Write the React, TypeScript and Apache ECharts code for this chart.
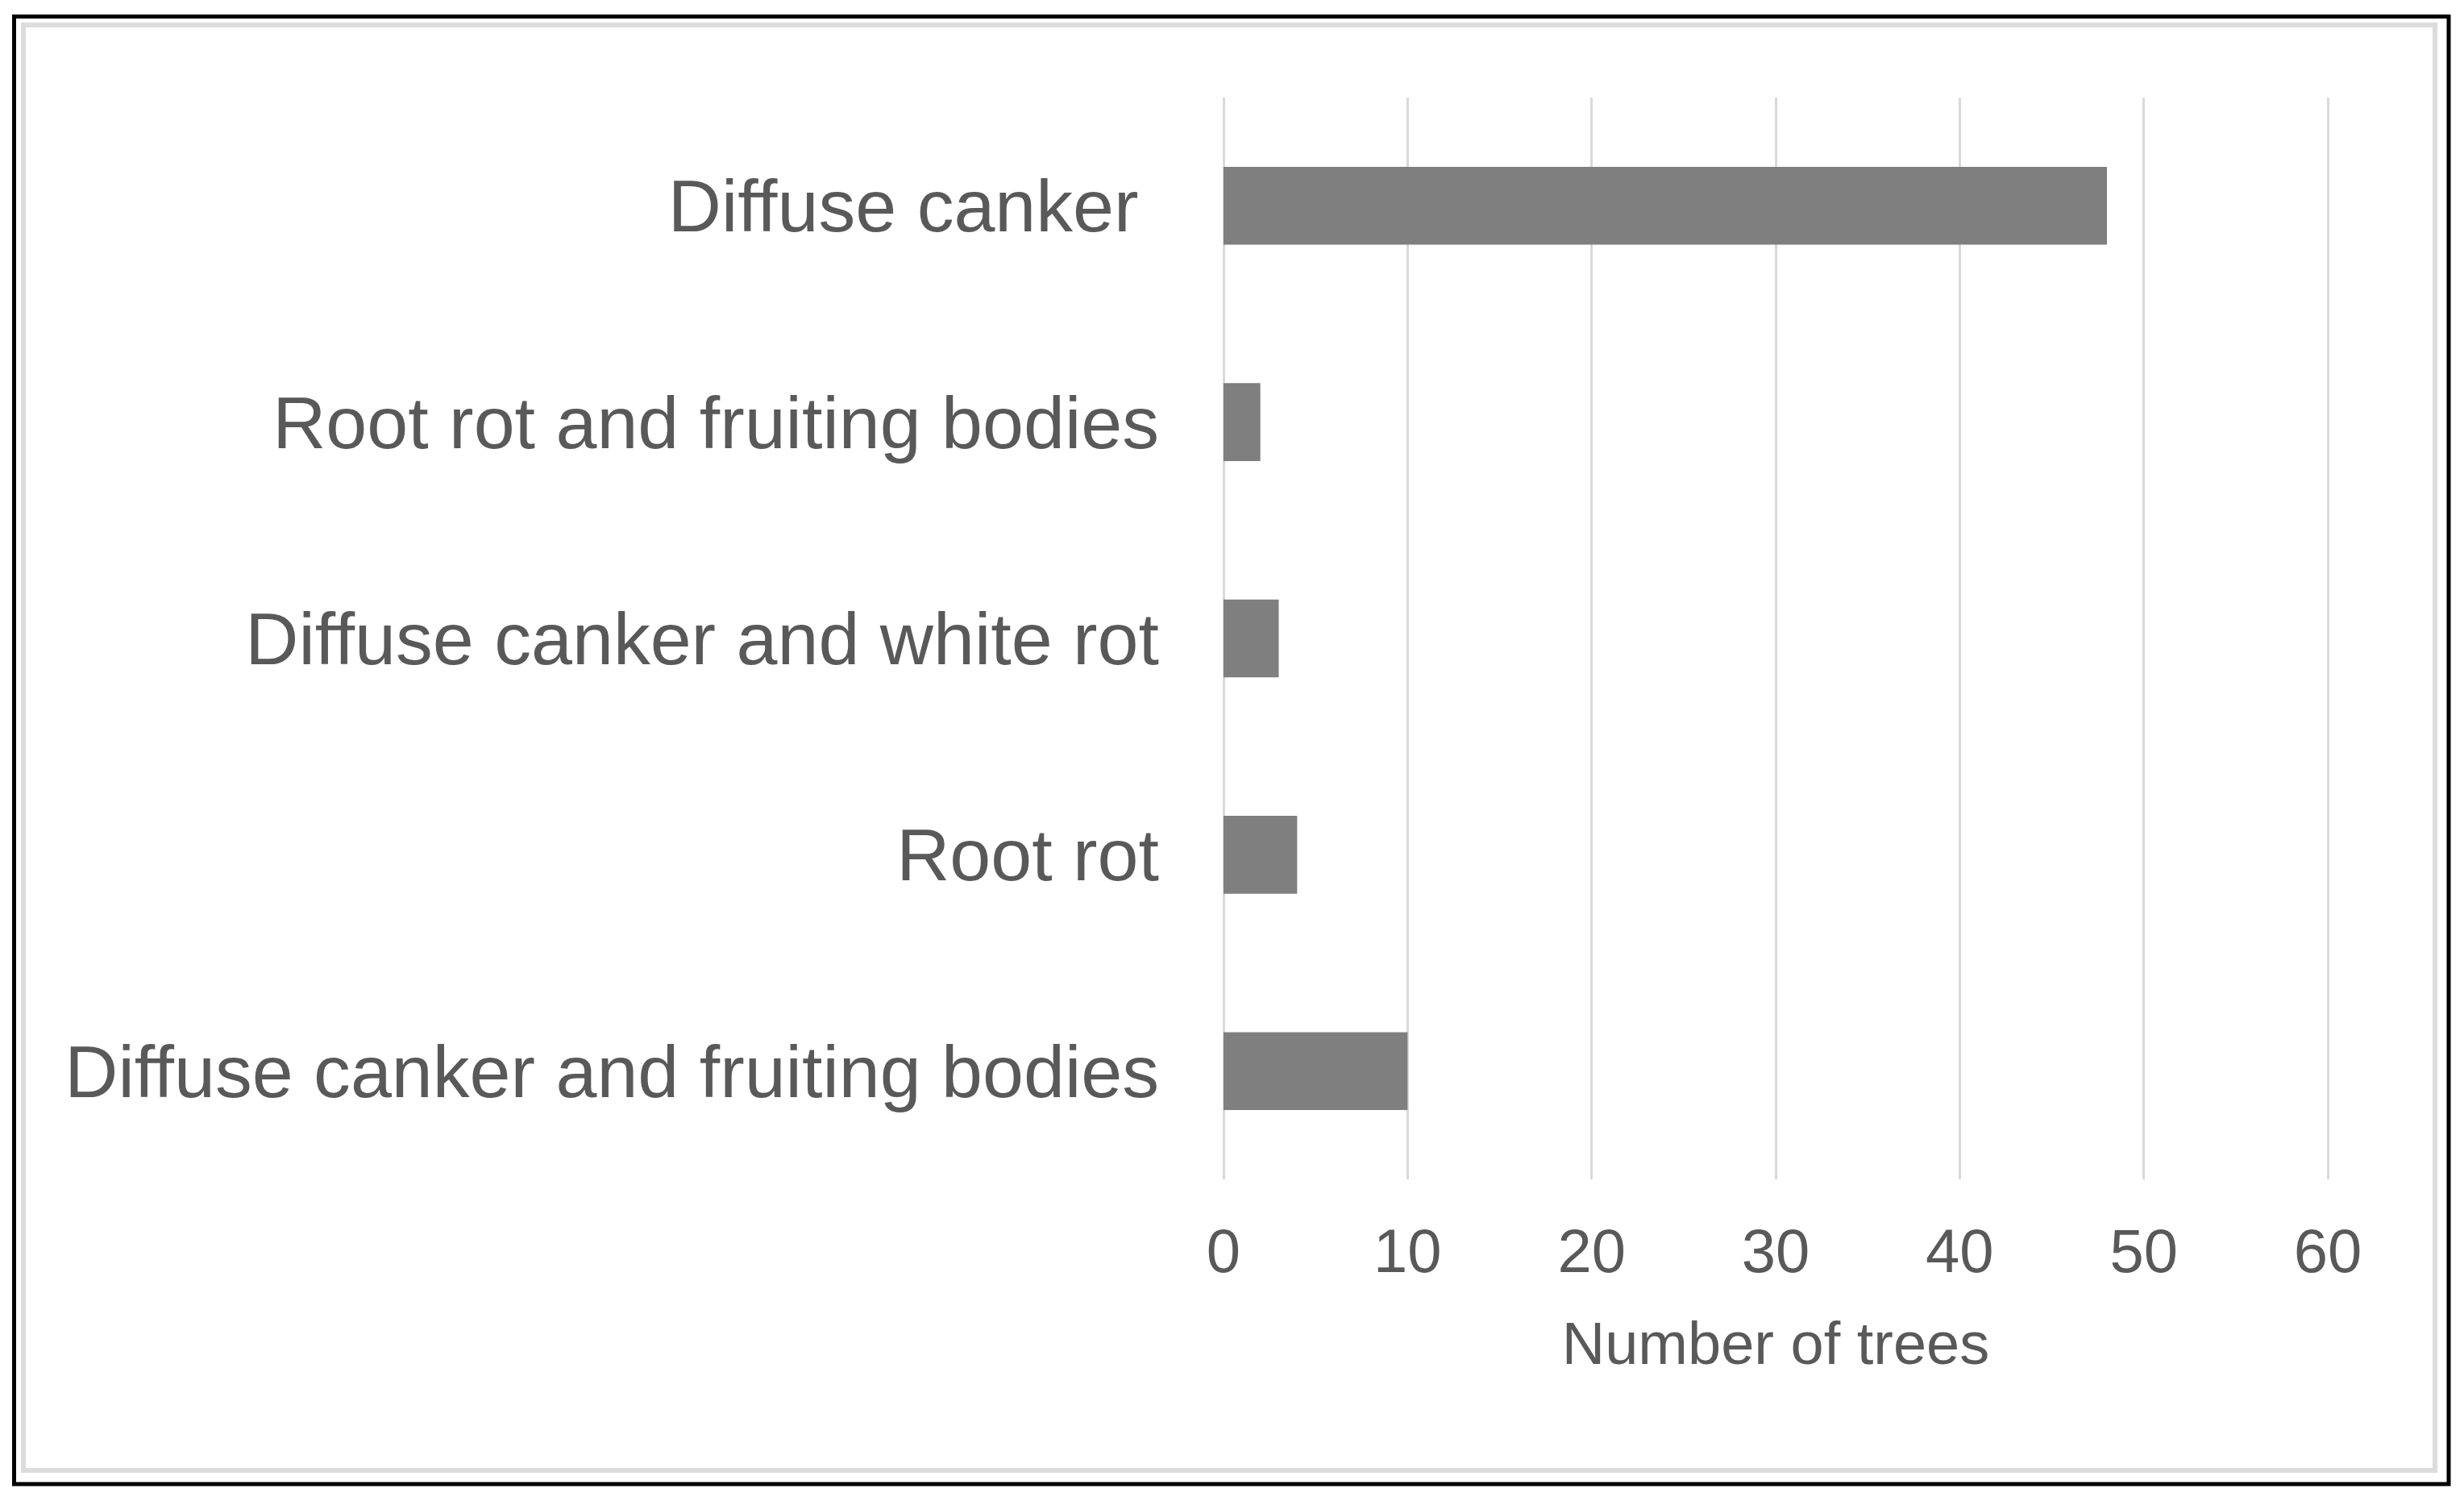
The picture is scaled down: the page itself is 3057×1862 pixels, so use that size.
import React, { useEffect, useRef } from "react";
import * as echarts from "echarts";

const categories = [
  "Diffuse canker",
  "Root rot and fruiting bodies",
  "Diffuse canker and white rot",
  "Root rot",
  "Diffuse canker and fruiting bodies",
];
const values = [48, 2, 3, 4, 10];
const xTicks = [0, 10, 20, 30, 40, 50, 60];
const xAxisName = "Number of trees";

const W = 3057;
const H = 1862;
const FONT = "'Liberation Sans', Arial, Helvetica, sans-serif";
const TEXT = "#595959";

export default function App() {
  const ref = useRef<HTMLDivElement | null>(null);
  useEffect(() => {
    document.body.style.margin = "0";
    if (!ref.current) return;
    const chart = echarts.init(ref.current, null, { renderer: "svg", width: W, height: H });
    chart.setOption({
      animation: false,
      backgroundColor: "#ffffff",
      grid: { left: 1518, right: W - 2888, top: 121, bottom: H - 1463 },
      xAxis: {
        type: "value",
        min: xTicks[0],
        max: xTicks[xTicks.length - 1],
        interval: xTicks[1] - xTicks[0],
        name: xAxisName,
        nameLocation: "middle",
        nameGap: 166,
        nameTextStyle: { color: TEXT, fontSize: 74, fontFamily: FONT },
        axisLine: { show: false },
        axisTick: { show: false },
        axisLabel: { color: TEXT, fontSize: 76, fontFamily: FONT, margin: 50 },
        splitLine: { show: true, lineStyle: { color: "#d9d9d9", width: 3 } },
      },
      yAxis: {
        type: "category",
        inverse: true,
        data: categories,
        axisLine: { show: false },
        axisTick: { show: false },
        axisLabel: {
          color: TEXT,
          fontSize: 91.6,
          fontFamily: FONT,
          margin: 80,
          padding: [0, 0, 6, 0],
          formatter: (v: string) => (v === "Diffuse canker" ? v + "\u00a0" : v),
        },
        splitLine: { show: false },
      },
      series: [
        {
          type: "bar",
          data: values,
          barCategoryGap: "64%",
          itemStyle: { color: "#7f7f7f" },
        },
      ],
      graphic: [
        {
          type: "rect",
          shape: { x: 29, y: 31, width: 2992, height: 1793 },
          style: { fill: "none", stroke: "#dcdcdc", lineWidth: 6 },
          silent: true,
        },
        {
          type: "rect",
          shape: { x: 17.5, y: 20.5, width: 3020.5, height: 1820.5 },
          style: { fill: "none", stroke: "#000000", lineWidth: 5 },
          silent: true,
        },
      ],
    });
    return () => chart.dispose();
  }, []);
  return (
    <div
      ref={ref}
      style={{ position: "absolute", left: 0, top: 0, width: W, height: H }}
    />
  );
}
